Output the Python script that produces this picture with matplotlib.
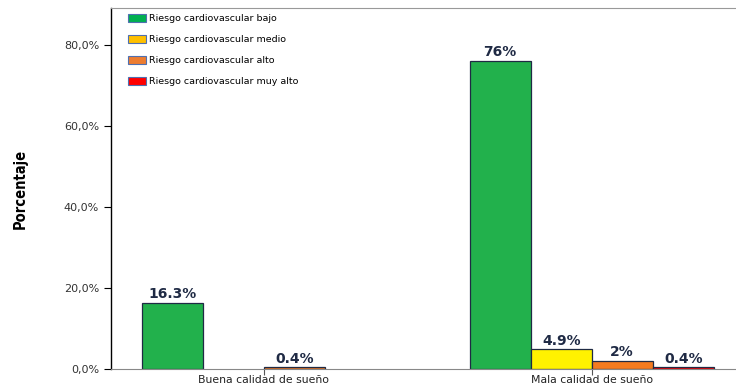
import matplotlib.pyplot as plt
from matplotlib.patches import Patch
from matplotlib.ticker import FuncFormatter

# datos: porcentaje de cada nivel de riesgo según calidad de sueño
grupos = ["Buena calidad de sueño", "Mala calidad de sueño"]
niveles = ["Riesgo cardiovascular bajo", "Riesgo cardiovascular medio",
           "Riesgo cardiovascular alto", "Riesgo cardiovascular muy alto"]
bajo = [16.3, 76]
medio = [0, 4.9]
alto = [0.4, 2]
muy_alto = [0, 0.4]

colores_barra = ["#22b14c", "#fff200", "#f47b20", "#ff0000"]
colores_leyenda = ["#00b050", "#ffc000", "#ed7d31", "#ff0000"]

fig = plt.figure(figsize=(7.36, 3.85), dpi=100)
ax = fig.add_axes([0.1508, 0.0416, 0.8492, 0.9377])

ancho = 0.186
desplaz = [-1.5, -0.5, 0.5, 1.5]
for serie, color, d in zip([bajo, medio, alto, muy_alto], colores_barra, desplaz):
    for i, v in enumerate(serie):
        if v <= 0:
            continue
        x = i + d * ancho
        ax.bar(x, v, width=ancho, color=color, edgecolor="#1f2a44", linewidth=0.9)
        ax.text(x, v + 0.4, f"{v:g}%", ha="center", va="bottom",
                fontsize=10, fontweight="bold", fontstretch="normal",
                family="DejaVu Sans", color="#1f2a44")

ax.set_xlim(-0.466, 1.44)
ax.set_ylim(0, 89.1)
ax.set_xticks([0, 1])
ax.set_xticklabels(grupos, fontsize=7.8, color="#222222")
ax.set_yticks([0, 20, 40, 60, 80])
ax.yaxis.set_major_formatter(FuncFormatter(lambda y, _: f"{y:.1f}%".replace(".", ",")))
ax.tick_params(axis="y", labelsize=8, labelcolor="#333333", length=5, width=0.8)
ax.tick_params(axis="x", length=4, width=0.8, pad=0.5, color="#555555")

ax.spines["left"].set_color("black")
ax.spines["left"].set_linewidth(1.0)
ax.spines["bottom"].set_color("#888888")
ax.spines["top"].set_color("#999999")
ax.spines["right"].set_visible(False)

ax.set_ylabel("Porcentaje", fontsize=10.5, fontweight="bold", fontstretch="condensed",
              family=["DejaVu Sans"], labelpad=26)

handles = [Patch(facecolor=c, edgecolor="#4f6fb0", linewidth=0.8) for c in colores_leyenda]
ax.legend(handles, niveles, loc="upper left", bbox_to_anchor=(0.018, 1.0),
          frameon=False, fontsize=6.8, handlelength=1.9, handleheight=0.9,
          handletextpad=0.25, labelspacing=1.25, borderaxespad=0.25)

fig.savefig("out.png", dpi=100)
